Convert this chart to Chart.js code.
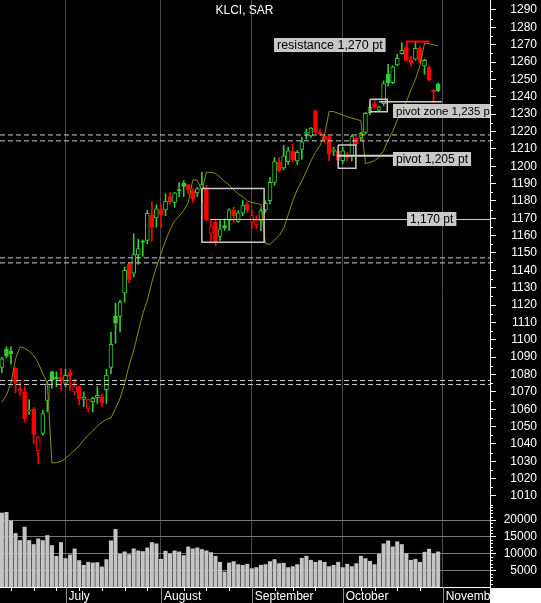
<!DOCTYPE html>
<html>
<head>
<meta charset="utf-8">
<script src="https://cdn.jsdelivr.net/npm/chart.js@4.4.1/dist/chart.umd.min.js"></script>
<style>
  html, body { margin: 0; padding: 0; background: #000; }
  #wrap { width: 541px; height: 603px; }
</style>
</head>
<body>
<div id="wrap"><canvas id="klci" width="541" height="603"></canvas></div>
<script>
// KLCI daily candles, mid June to end of October
const opens = [1084, 1094.5, 1093.5, 1083.5, 1071.5, 1070, 1059, 1060, 1036, 1046,
  1065, 1081.5, 1078.5, 1078.5, 1075, 1081, 1070, 1073, 1065.6, 1060.2,
  1064.2, 1066.7, 1067, 1071.3, 1084, 1113.5, 1113.5, 1127, 1143.4, 1138.4,
  1148.9, 1157, 1157.2, 1172, 1170.2, 1174.8, 1174.8, 1182.5, 1179.2, 1186.2,
  1190.3, 1189.4, 1186, 1184.6, 1186.9, 1187, 1161.4, 1167.7, 1159.5, 1165.8,
  1168.7, 1174.8, 1168.1, 1172.9, 1178.2, 1167.7, 1166.2, 1168.7, 1174.8, 1180.2,
  1190.7, 1202.2, 1199, 1202.6, 1208.5, 1203, 1209.7, 1219, 1217.5, 1231.9,
  1219.5, 1217.5, 1217, 1208.5, 1208.9, 1203.2, 1206.6, 1206, 1216.2, 1216.6,
  1219.5, 1230.9, 1236.1, 1232.3, 1236.1, 1253, 1248.2, 1258.4, 1264.9, 1268.3,
  1261, 1261.6, 1267.9, 1257.8, 1256.8, 1243.8, 1247.3];
const highs = [1090, 1096, 1096, 1084, 1075.5, 1073, 1065.5, 1061, 1044.5, 1059.5,
  1076, 1082, 1081.5, 1083.5, 1083, 1083, 1077.5, 1073.5, 1070, 1066,
  1067, 1073, 1068.6, 1083, 1104.5, 1121, 1122.7, 1142, 1144.7, 1161,
  1158, 1157.5, 1174.4, 1179.6, 1177.7, 1178.2, 1184, 1185, 1185, 1190.6,
  1191.7, 1189.5, 1187, 1187.8, 1196.5, 1189, 1169.6, 1169.6, 1168.7, 1169.6,
  1175.4, 1176.3, 1174.4, 1180.2, 1179.2, 1174.8, 1171.5, 1175.4, 1180, 1193.6,
  1205, 1205, 1212, 1211, 1212.7, 1209, 1216.6, 1221.4, 1222.3, 1232.5,
  1221.4, 1218, 1217.5, 1211, 1210, 1211, 1208, 1218, 1217, 1219.5,
  1231, 1236, 1238.6, 1234.5, 1249.2, 1258.7, 1257.8, 1264.5, 1271.2, 1269,
  1263.5, 1271.2, 1269.3, 1261.6, 1257.8, 1244, 1248];
const lows = [1081, 1089.5, 1086, 1069.5, 1068, 1052.5, 1057, 1040, 1028.5, 1045,
  1058.5, 1072, 1072.8, 1071, 1073, 1071, 1068, 1062.5, 1061.5, 1058.5,
  1058.5, 1063.3, 1061.4, 1063.3, 1080.5, 1098, 1104.5, 1121.7, 1132.7, 1136.1,
  1143.5, 1148, 1155.3, 1156.6, 1164.8, 1164.8, 1171.5, 1178, 1176.3, 1182.5,
  1182.5, 1184, 1179.2, 1182.5, 1179.2, 1168.5, 1156.2, 1154.3, 1157.2, 1163,
  1163, 1167.7, 1167.7, 1171.5, 1173.5, 1164, 1163.9, 1162.9, 1173.5, 1178.2,
  1189, 1196.5, 1198, 1201, 1202.2, 1201, 1204, 1215.6, 1216.6, 1219,
  1217.6, 1213.5, 1203, 1206, 1201, 1201.5, 1203, 1203, 1212, 1215,
  1218.5, 1229.5, 1232.9, 1232, 1234.8, 1246.3, 1247.5, 1257.8, 1264.5, 1260.5,
  1257.8, 1261, 1259.7, 1253, 1249.2, 1236.7, 1243];
const closes = [1089, 1090.5, 1092, 1075, 1070.5, 1054.5, 1059.5, 1045.5, 1044, 1057.5,
  1074.5, 1077, 1077.5, 1076.5, 1079.5, 1079, 1073, 1066, 1067, 1065.5,
  1066.2, 1068, 1063.5, 1079.6, 1097.4, 1109.5, 1121.7, 1140, 1134.8, 1149.1,
  1152.6, 1156.3, 1172.9, 1164.8, 1175.4, 1172.1, 1179.8, 1179.5, 1184.6, 1185.9,
  1188.4, 1186.3, 1181, 1186.9, 1189.4, 1169, 1165.2, 1156.2, 1163.9, 1164.3,
  1174.8, 1171.5, 1173.1, 1177.3, 1174.8, 1171.5, 1168.7, 1174.4, 1178.6, 1190.7,
  1202.6, 1197.4, 1206, 1208.9, 1203.7, 1208, 1214.1, 1219.5, 1221.9, 1219.5,
  1218.5, 1215, 1207, 1209, 1203.5, 1208.9, 1205.1, 1217, 1213, 1218.9,
  1230.4, 1234.2, 1233.8, 1234.2, 1247.6, 1248, 1257.2, 1262.2, 1266.8, 1261,
  1259.7, 1267.9, 1260.3, 1261, 1249.6, 1242.8, 1243.5];
const volumes = [22100, 22300, 19800, 16000, 13900, 17900, 13900, 12700, 14400, 13900,
  15400, 12400, 9200, 13300, 8500, 9600, 11400, 7900, 6500, 7400,
  7200, 7300, 6000, 8200, 13800, 17200, 9800, 10500, 9700, 11400,
  10800, 10600, 11700, 13300, 12900, 8300, 10700, 9900, 10800, 10500,
  9400, 12000, 11400, 11700, 11200, 10800, 10300, 9200, 7400, 4500,
  7200, 7600, 6700, 6500, 6800, 5500, 5800, 6500, 6700, 7600,
  8200, 7000, 7100, 5800, 6100, 6700, 8600, 9200, 8000, 7400,
  7900, 7400, 6100, 6500, 7400, 5800, 6800, 6100, 7000, 9200,
  8500, 7700, 6700, 9800, 12900, 13800, 12000, 13500, 12700, 10000,
  8000, 8300, 7400, 10400, 11300, 9900, 10500];
// olive SAR / trailing stop line
const sarLine = [1064, 1068, 1075, 1089, 1096, 1095, 1093.5, 1091, 1086.5, 1080.5,
  1075, 1029, 1029.2, 1030, 1031.6, 1034, 1036.4, 1038.9, 1042.2, 1044.9,
  1047.6, 1050.2, 1052.5, 1054.1, 1055, 1060.4, 1066.2, 1074.8, 1085.3, 1093.9,
  1104.5, 1115, 1122.7, 1133.2, 1141.9, 1149.5, 1157, 1163.5, 1168.5, 1171.2,
  1174.5, 1179, 1192, 1192, 1186, 1196.5, 1196.5, 1195.9, 1193.6, 1191.3,
  1189.2, 1186.5, 1184, 1182.5, 1180.2, 1179, 1178.6, 1177.9, 1155.3, 1155,
  1157.5, 1160, 1164, 1172, 1180, 1186.5, 1191.5, 1197, 1203, 1208,
  1212, 1218, 1231.5, 1231.5, 1230.5, 1229.5, 1228.5, 1227.7, 1227, 1226.2,
  1201.5, 1202.2, 1203.2, 1205, 1209, 1215, 1220, 1226.5, 1232, 1237,
  1244, 1250, 1258, 1271, 1270.6, 1270, 1269.3];

const monthStarts = [14, 35, 55, 75, 97];
const monthNames = ['July', 'August', 'September', 'October', 'November'];
const weekTicks = [2, 7, 12, 17, 22, 27, 32, 40, 45, 50, 60, 64, 69, 79, 82, 87, 92];
const priceTicks = [1010, 1020, 1030, 1040, 1050, 1060, 1070, 1080, 1090, 1100,
  1110, 1120, 1130, 1140, 1150, 1160, 1170, 1180, 1190, 1200,
  1210, 1220, 1230, 1240, 1250, 1260, 1270, 1280, 1290];
const volumeTicks = [5000, 10000, 15000, 20000];

// drawn-in levels
const dashedLevels = [1218, 1214.6, 1147.2, 1144.3, 1076.5, 1074.2];
const boxes = [
  { from: 44.0, to: 57.7, top: 1187.2, bottom: 1156.2 },
  { from: 74.0, to: 77.9, top: 1212.2, bottom: 1198.8 },
  { from: 81.0, to: 84.8, top: 1238.6, bottom: 1231.4 }
];
const levelLines = [
  { from: 45.8, to: 108, level: 1169.3, width: 1 },
  { from: 73.7, to: 86.1, level: 1206, width: 2 },
  { from: 83.0, to: 96.8, level: 1237.2, width: 1.5 }
];
const resistance = { from: 89.1, to: 94.1, level: 1271.8, foot: 1268.3 };
const notes = [
  { text: 'resistance 1,270 pt', at: 59.9, level: 1270.1, size: 12.5 },
  { text: 'pivot zone 1,235 pt', at: 86.0, level: 1231.8, size: 11.5 },
  { text: 'pivot 1,205 pt', at: 86.0, level: 1204.2, size: 12 },
  { text: '1,170 pt', at: 89.1, level: 1169.6, size: 12 }
];

const xMin = -0.42, xMax = 107.41;
const GREEN = '#33cc33', RED = '#ff0000';
const FONT = '"Liberation Sans", Arial, sans-serif';

const candleColor = closes.map((c, i) => {
  const prev = i === 0 ? opens[0] : closes[i - 1];
  return c >= prev ? GREEN : RED;
});
const bodyFill = closes.map((c, i) => (c > opens[i] ? '#000000' : candleColor[i]));

const datasets = [];
datasets.push({
  type: 'bar', label: 'wicks', yAxisID: 'y', order: 6,
  data: lows.map((l, i) => ({ x: i, y: [l, highs[i]] })),
  backgroundColor: candleColor, borderWidth: 0, barThickness: 1, grouped: false
});
datasets.push({
  type: 'bar', label: 'bodies', yAxisID: 'y', order: 5,
  data: opens.map((o, i) => ({ x: i, y: [o, closes[i]] })),
  backgroundColor: bodyFill, borderColor: candleColor, borderWidth: 1,
  borderSkipped: false, barThickness: 4, minBarLength: 1, grouped: false
});
datasets.push({
  type: 'bar', label: 'volume', yAxisID: 'yv', order: 5,
  data: volumes.map((v, i) => ({ x: i, y: v })),
  backgroundColor: '#c4c4c4', borderWidth: 0, barThickness: 3.4, grouped: false
});
datasets.push({
  type: 'line', label: 'SAR', yAxisID: 'y', order: 3,
  data: sarLine.map((v, i) => ({ x: i, y: v })),
  borderColor: '#8f8f00', borderWidth: 1, pointRadius: 0, tension: 0
});
dashedLevels.forEach(v => {
  datasets.push({
    type: 'line', yAxisID: 'y', order: 2,
    data: [{ x: xMin, y: v }, { x: xMax, y: v }],
    borderColor: '#cfcfcf', borderWidth: 1, borderDash: [5, 3], pointRadius: 0
  });
});
boxes.forEach(b => {
  datasets.push({
    type: 'line', yAxisID: 'y', order: 1,
    data: [{ x: b.from, y: b.top }, { x: b.to, y: b.top }, { x: b.to, y: b.bottom },
      { x: b.from, y: b.bottom }, { x: b.from, y: b.top }],
    borderColor: '#c8c8c8', borderWidth: 1.5, pointRadius: 0
  });
});
levelLines.forEach(l => {
  datasets.push({
    type: 'line', yAxisID: 'y', order: 1,
    data: [{ x: l.from, y: l.level }, { x: l.to, y: l.level }],
    borderColor: '#d0d0d0', borderWidth: l.width, pointRadius: 0
  });
});
datasets.push({
  type: 'line', yAxisID: 'y', order: 1,
  data: [{ x: resistance.from, y: resistance.foot }, { x: resistance.from, y: resistance.level },
    { x: resistance.to, y: resistance.level }],
  borderColor: RED, borderWidth: 2, pointRadius: 0
});

const decor = {
  id: 'decor',
  beforeDraw(chart) {
    const ctx = chart.ctx;
    ctx.save();
    ctx.fillStyle = '#000';
    ctx.fillRect(0, 0, chart.width, chart.height);
    ctx.restore();
  },
  afterDatasetsDraw(chart) {
    const ctx = chart.ctx, a = chart.chartArea;
    const xs = chart.scales.x, ys = chart.scales.y;
    ctx.save();
    ctx.beginPath();
    ctx.rect(a.left, a.top, a.right - a.left, a.bottom - a.top);
    ctx.clip();
    ctx.textBaseline = 'middle';
    notes.forEach(n => {
      ctx.font = n.size + 'px ' + FONT;
      const x = Math.round(xs.getPixelForValue(n.at));
      const y = Math.round(ys.getPixelForValue(n.level));
      const w = ctx.measureText(n.text).width + 6;
      ctx.fillStyle = '#c8c8c8';
      ctx.fillRect(x, y - 7, w, 14);
      ctx.fillStyle = '#000';
      ctx.fillText(n.text, x + 3, y + 0.5);
    });
    ctx.font = '12px ' + FONT;
    ctx.fillStyle = '#ffffff';
    ctx.textAlign = 'center';
    ctx.fillText('KLCI, SAR', 244.5, 11);
    ctx.restore();
  },
  afterDraw(chart) {
    const ctx = chart.ctx, a = chart.chartArea;
    const xs = chart.scales.x, ys = chart.scales.y, yv = chart.scales.yv;
    ctx.save();
    ctx.strokeStyle = '#ffffff';
    ctx.lineWidth = 1;
    ctx.beginPath();
    for (let v = 1005; v < 1295; v += 10) {
      const y = Math.round(ys.getPixelForValue(v)) + 0.5;
      ctx.moveTo(a.right, y); ctx.lineTo(a.right + 3, y);
    }
    for (let v = 1000; v < 24500; v += 1000) {
      if (v % 5000 === 0) continue;
      const y = Math.round(yv.getPixelForValue(v)) + 0.5;
      ctx.moveTo(a.right, y); ctx.lineTo(a.right + 3, y);
    }
    weekTicks.forEach(i => {
      const x = Math.round(xs.getPixelForValue(i)) + 0.5;
      ctx.moveTo(x, a.bottom); ctx.lineTo(x, a.bottom + 4);
    });
    ctx.stroke();
    ctx.strokeStyle = '#8a8a8a';
    ctx.beginPath();
    monthStarts.forEach(i => {
      const x = Math.round(xs.getPixelForValue(i)) + 0.5;
      ctx.moveTo(x, a.bottom); ctx.lineTo(x, chart.height);
    });
    ctx.stroke();
    ctx.fillStyle = '#ffffff';
    ctx.fillRect(a.right, a.bottom + 1, chart.width - a.right, chart.height - a.bottom);
    ctx.restore();
  }
};

const tickFont = { family: FONT, size: 12 };

new Chart(document.getElementById('klci').getContext('2d'), {
  data: { datasets: datasets },
  options: {
    responsive: false,
    animation: false,
    events: [],
    layout: { padding: { left: 0, top: 0, bottom: 0, right: 4 } },
    plugins: { legend: { display: false }, tooltip: { enabled: false }, title: { display: false } },
    scales: {
      x: {
        type: 'linear', position: 'bottom', min: xMin, max: xMax, offset: false,
        afterBuildTicks: s => { s.ticks = monthStarts.map(v => ({ value: v })); },
        afterFit: s => { s.height = 16; s.paddingLeft = 0; s.paddingRight = 0; },
        grid: { color: '#4a4a4a', drawTicks: false, offset: false },
        border: { color: '#ffffff' },
        ticks: {
          color: '#ffffff', font: tickFont, align: 'start', labelOffset: 3, padding: 2,
          autoSkip: false, maxRotation: 0,
          callback: (v, idx) => monthNames[idx]
        }
      },
      y: {
        type: 'linear', position: 'right', stack: 'panels', stackWeight: 505,
        min: 1004.8, max: 1295.76,
        afterBuildTicks: s => { s.ticks = priceTicks.map(v => ({ value: v })); },
        afterFit: s => { s.width = 47; s.paddingTop = 0; s.paddingBottom = 0; },
        grid: { drawOnChartArea: false, tickColor: '#ffffff', tickLength: 6 },
        border: { color: '#ffffff' },
        ticks: { color: '#ffffff', font: tickFont, crossAlign: 'far', padding: 2, autoSkip: false,
          callback: v => String(v) }
      },
      yv: {
        type: 'linear', position: 'right', stack: 'panels', stackWeight: 82,
        min: 0, max: 24500,
        afterBuildTicks: s => { s.ticks = volumeTicks.map(v => ({ value: v })); },
        afterFit: s => { s.width = 47; s.paddingTop = 0; s.paddingBottom = 0; },
        grid: { color: '#777777', tickColor: '#ffffff', tickLength: 6 },
        border: { color: '#ffffff' },
        ticks: { color: '#ffffff', font: tickFont, crossAlign: 'far', padding: 2, autoSkip: false,
          callback: v => String(v) }
      }
    }
  },
  plugins: [decor]
});
</script>
</body>
</html>
